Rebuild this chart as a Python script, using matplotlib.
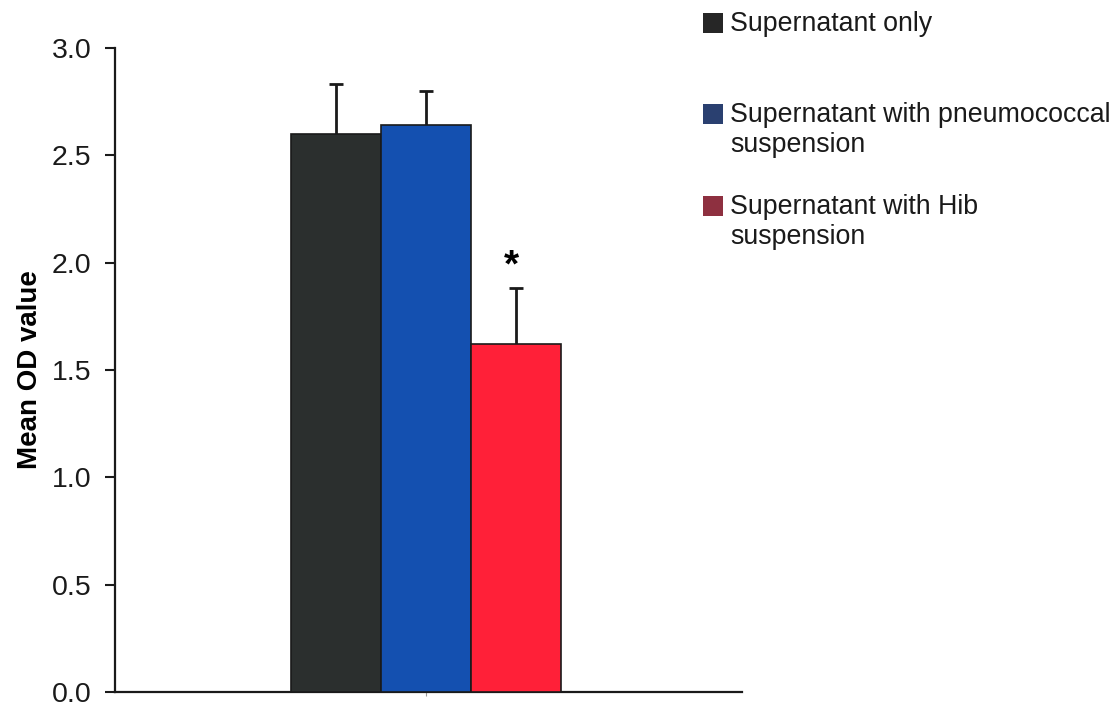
import numpy as np
import matplotlib.pyplot as plt
from matplotlib.patches import Rectangle

plt.rcParams['font.family'] = ['Liberation Sans', 'DejaVu Sans']

# dados
grupos = ['Supernatant only',
          'Supernatant with pneumococcal\nsuspension',
          'Supernatant with Hib\nsuspension']
medias = [2.60, 2.64, 1.62]
erros = [0.23, 0.16, 0.26]
cores_barras = ['#2b2f2e', '#1450b0', '#ff2038']
cores_legenda = ['#262626', '#2a4070', '#8e3040']
signif = ['', '', '*']

fig = plt.figure(figsize=(11.18, 7.10), dpi=100)
ax = fig.add_axes([0.103, 0.0254, 0.561, 0.907])

x = np.arange(len(medias))
ax.bar(x, medias, width=1.0, color=cores_barras, edgecolor='#1a1a1a', linewidth=1.2, zorder=3)
linha, caps, barras = ax.errorbar(x, medias, yerr=[np.zeros(len(erros)), erros], fmt='none',
                                  ecolor='#1a1a1a', elinewidth=2, capsize=5, capthick=2, zorder=2)
caps[0].set_visible(False)  # só a parte de cima

for xi, m, e, s in zip(x, medias, erros, signif):
    if s:
        ax.text(xi - 0.05, m + e + 0.10, s, ha='center', va='center', fontsize=28,
                fontweight='bold')

ax.set_xlim(-2.456, 4.511)
ax.set_ylim(0, 3.0)
ax.set_yticks(np.arange(0, 3.01, 0.5))
ax.set_yticklabels([f'{v:.1f}' for v in np.arange(0, 3.01, 0.5)], fontsize=20.5)
ax.set_xticks([1])
ax.set_xticklabels([''])
ax.tick_params(axis='x', length=3, color='#999999', width=0.8)
ax.tick_params(axis='y', length=7, width=1.5, pad=10, colors='#1a1a1a')
ax.set_ylabel('Mean OD value', fontsize=20, fontweight='bold', labelpad=6)

for lado in ['top', 'right']:
    ax.spines[lado].set_visible(False)
for lado in ['left', 'bottom']:
    ax.spines[lado].set_linewidth(1.6)
    ax.spines[lado].set_color('#1a1a1a')

# legenda manual fora do gráfico
W, H = 1118, 710
topos = [11, 102, 194]
for rotulo, cor, topo in zip(grupos, cores_legenda, topos):
    fig.patches.append(Rectangle((703 / W, 1 - (topo + 22) / H), 20 / W, 20 / H,
                                 transform=fig.transFigure, facecolor=cor,
                                 edgecolor='none'))
    fig.text(730 / W, 1 - topo / H, rotulo, fontsize=19.3, va='top', ha='left',
             color='#1a1a1a', linespacing=1.22)

plt.savefig('out.png', dpi=100)
